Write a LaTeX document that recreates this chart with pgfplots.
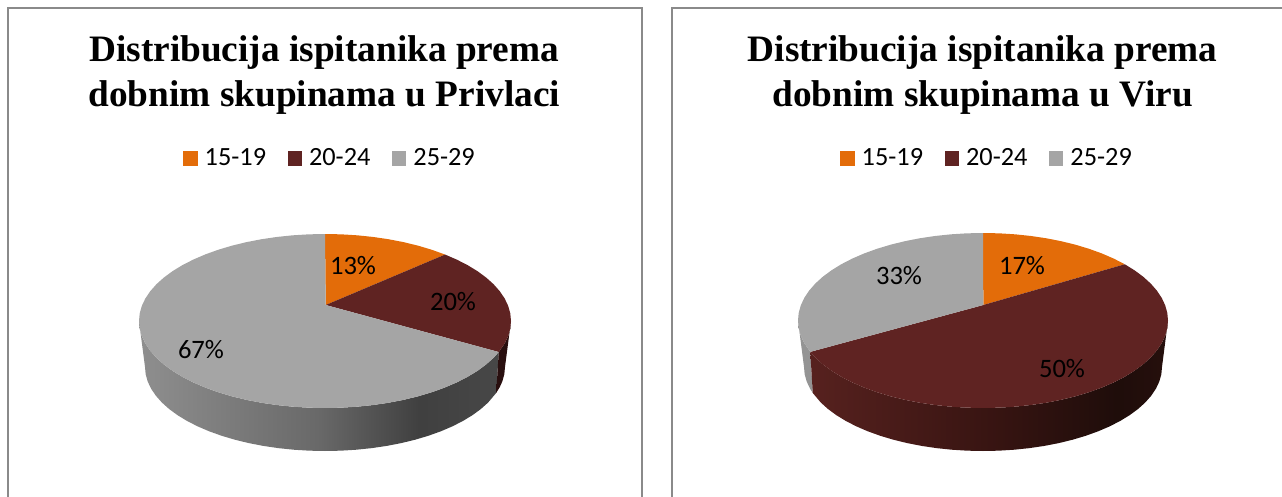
\documentclass[border=0pt]{standalone}
\usepackage{fontspec}
\setmainfont{Liberation Serif}
\newfontfamily\calfont{Carlito}
\usepackage{pgfplots}
\usepackage{pgfplotstable}
\pgfplotsset{compat=1.18}
\definecolor{cOrange}{HTML}{E36C09}
\definecolor{cMaroon}{HTML}{5F2322}
\definecolor{cGray}{HTML}{A5A5A5}
\definecolor{cFrame}{HTML}{8A8A8A}
\pgfdeclarehorizontalshading{wallgray}{100bp}{rgb(0bp)=(0.56,0.56,0.56); rgb(25bp)=(0.56,0.56,0.56); rgb(50bp)=(0.41,0.41,0.41); rgb(64bp)=(0.25,0.25,0.25); rgb(75bp)=(0.28,0.28,0.28); rgb(100bp)=(0.28,0.28,0.28)}
\pgfdeclarehorizontalshading{wallmaroon}{100bp}{rgb(0bp)=(0.34,0.13,0.12); rgb(25bp)=(0.34,0.13,0.12); rgb(50bp)=(0.22,0.08,0.07); rgb(68bp)=(0.12,0.05,0.04); rgb(75bp)=(0.15,0.06,0.05); rgb(100bp)=(0.15,0.06,0.05)}
\pgfdeclarehorizontalshading{wallmaroondark}{100bp}{rgb(0bp)=(0.16,0.06,0.06); rgb(100bp)=(0.16,0.06,0.06)}
\pgfdeclarehorizontalshading{wallgraylight}{100bp}{rgb(0bp)=(0.58,0.58,0.58); rgb(100bp)=(0.58,0.58,0.58)}

% top faces: t = angle on the rim clockwise from the top, f = 0 for the pie's apex, 1 for the rim
\pgfplotstableread[row sep=\\]{t f\\ 0 0\\ 0 1\\ 5 1\\ 10 1\\ 15 1\\ 20 1\\ 25 1\\ 30 1\\ 35 1\\ 40.2 1\\}\LtopA
\pgfplotstableread[row sep=\\]{t f\\ 0 0\\ 40.2 1\\ 45 1\\ 50 1\\ 55 1\\ 60 1\\ 65 1\\ 70 1\\ 75 1\\ 80 1\\ 85 1\\ 90 1\\ 95 1\\ 100 1\\ 105 1\\ 110.9 1\\}\LtopB
\pgfplotstableread[row sep=\\]{t f\\ 0 0\\ 110.9 1\\ 115 1\\ 120 1\\ 125 1\\ 130 1\\ 135 1\\ 140 1\\ 145 1\\ 150 1\\ 155 1\\ 160 1\\ 165 1\\ 170 1\\ 175 1\\ 180 1\\ 185 1\\ 190 1\\ 195 1\\ 200 1\\ 205 1\\ 210 1\\ 215 1\\ 220 1\\ 225 1\\ 230 1\\ 235 1\\ 240 1\\ 245 1\\ 250 1\\ 255 1\\ 260 1\\ 265 1\\ 270 1\\ 275 1\\ 280 1\\ 285 1\\ 290 1\\ 295 1\\ 300 1\\ 305 1\\ 310 1\\ 315 1\\ 320 1\\ 325 1\\ 330 1\\ 335 1\\ 340 1\\ 345 1\\ 350 1\\ 355 1\\ 360 1\\}\LtopC
\pgfplotstableread[row sep=\\]{t f\\ 0 0\\ 0 1\\ 5 1\\ 10 1\\ 15 1\\ 20 1\\ 25 1\\ 30 1\\ 35 1\\ 40 1\\ 45 1\\ 50 1\\}\RtopA
\pgfplotstableread[row sep=\\]{t f\\ 0 0\\ 50 1\\ 55 1\\ 60 1\\ 65 1\\ 70 1\\ 75 1\\ 80 1\\ 85 1\\ 90 1\\ 95 1\\ 100 1\\ 105 1\\ 110 1\\ 115 1\\ 120 1\\ 125 1\\ 130 1\\ 135 1\\ 140 1\\ 145 1\\ 150 1\\ 155 1\\ 160 1\\ 165 1\\ 170 1\\ 175 1\\ 180 1\\ 185 1\\ 190 1\\ 195 1\\ 200 1\\ 205 1\\ 210 1\\ 215 1\\ 220 1\\ 225 1\\ 230 1\\ 235 1\\ 240 1\\ 245 1\\ 249 1\\}\RtopB
\pgfplotstableread[row sep=\\]{t f\\ 0 0\\ 249 1\\ 255 1\\ 260 1\\ 265 1\\ 270 1\\ 275 1\\ 280 1\\ 285 1\\ 290 1\\ 295 1\\ 300 1\\ 305 1\\ 310 1\\ 315 1\\ 320 1\\ 325 1\\ 330 1\\ 335 1\\ 340 1\\ 345 1\\ 350 1\\ 355 1\\ 360 1\\}\RtopC
% side walls: z = 0 upper rim, 1 lower rim
\pgfplotstableread[row sep=\\]{t z\\ 90 0\\ 95 0\\ 100 0\\ 105 0\\ 110.9 0\\ 108 1\\ 104 1\\ 100 1\\ 95 1\\ 90 1\\}\LwallB
\pgfplotstableread[row sep=\\]{t z\\ 110.9 0\\ 115 0\\ 120 0\\ 125 0\\ 130 0\\ 135 0\\ 140 0\\ 145 0\\ 150 0\\ 155 0\\ 160 0\\ 165 0\\ 170 0\\ 175 0\\ 180 0\\ 185 0\\ 190 0\\ 195 0\\ 200 0\\ 205 0\\ 210 0\\ 215 0\\ 220 0\\ 225 0\\ 230 0\\ 235 0\\ 240 0\\ 245 0\\ 250 0\\ 255 0\\ 260 0\\ 265 0\\ 270 0\\ 270 1\\ 265 1\\ 260 1\\ 255 1\\ 250 1\\ 245 1\\ 240 1\\ 235 1\\ 230 1\\ 225 1\\ 220 1\\ 215 1\\ 210 1\\ 205 1\\ 200 1\\ 195 1\\ 190 1\\ 185 1\\ 180 1\\ 175 1\\ 170 1\\ 165 1\\ 160 1\\ 155 1\\ 150 1\\ 145 1\\ 140 1\\ 135 1\\ 130 1\\ 125 1\\ 120 1\\ 115 1\\ 108 1\\}\LwallC
\pgfplotstableread[row sep=\\]{t z\\ 90 0\\ 95 0\\ 100 0\\ 105 0\\ 110 0\\ 115 0\\ 120 0\\ 125 0\\ 130 0\\ 135 0\\ 140 0\\ 145 0\\ 150 0\\ 155 0\\ 160 0\\ 165 0\\ 170 0\\ 175 0\\ 180 0\\ 185 0\\ 190 0\\ 195 0\\ 200 0\\ 205 0\\ 210 0\\ 215 0\\ 220 0\\ 225 0\\ 230 0\\ 235 0\\ 240 0\\ 245 0\\ 249 0\\ 252 1\\ 245 1\\ 240 1\\ 235 1\\ 230 1\\ 225 1\\ 220 1\\ 215 1\\ 210 1\\ 205 1\\ 200 1\\ 195 1\\ 190 1\\ 185 1\\ 180 1\\ 175 1\\ 170 1\\ 165 1\\ 160 1\\ 155 1\\ 150 1\\ 145 1\\ 140 1\\ 135 1\\ 130 1\\ 125 1\\ 120 1\\ 115 1\\ 110 1\\ 105 1\\ 100 1\\ 95 1\\ 90 1\\}\RwallB
\pgfplotstableread[row sep=\\]{t z\\ 249 0\\ 255 0\\ 260 0\\ 265 0\\ 270 0\\ 270 1\\ 265 1\\ 260 1\\ 255 1\\ 252 1\\}\RwallC

\pgfplotsset{
  pieframe/.style={
    hide axis, scale only axis, clip=false, y dir=reverse,
    ymin=0, ymax=497, height=497pt,
    title style={align=center,anchor=center,inner sep=0pt,
      font=\fontsize{37.3}{44.5}\selectfont\bfseries},
    legend style={draw=none,fill=none,legend columns=-1,anchor=west,
      font=\calfont\fontsize{26.3}{26.3}\selectfont,
      nodes={inner sep=0pt,anchor=base west},
      /tikz/every odd column/.append style={column sep=7pt},
      /tikz/every even column/.append style={column sep=21.5pt},
      inner sep=0pt},
    legend image code/.code={\fill[##1] (0pt,0pt) rectangle (14.5pt,14.5pt);},
  },
  wallstyle/.style={draw=none,forget plot},
}
\newcommand{\piewall}[2]{\addplot[wallstyle,shading=#1] table[
   x expr={\cx+(\rx-6*\thisrow{z})*sin(\thisrow{t})},
   y expr={\cy+\dz*\thisrow{z}-(\ry-\dr*\thisrow{z})*cos(\thisrow{t})}] {#2} --cycle;}
\newcommand{\pietop}[2]{\addplot[draw=none,fill=#1] table[
   x expr={\thisrow{f}*(\cx+\rx*sin(\thisrow{t}))+(1-\thisrow{f})*\ax},
   y expr={\thisrow{f}*(\cy-\ry*cos(\thisrow{t}))+(1-\thisrow{f})*\ay}] {#2} --cycle;}
\newcommand{\pielabel}[3]{\node[font=\calfont\fontsize{26.6}{26.6}\selectfont,text=black] at (axis cs:#1,#2) {#3};}

\begin{document}
\begin{tikzpicture}[x=1pt,y=1pt]
\useasboundingbox (0pt,0pt) rectangle (1282pt,497pt);
\def\cx{325}\def\cy{321}\def\rx{186}\def\ry{87}\def\ax{325.7}\def\ay{305}\def\dz{46}\def\dr{3}
\begin{axis}[pieframe, at={(0pt,0pt)}, anchor=south west,
  width=657pt, xmin=0, xmax=657,
  title={Distribucija ispitanika prema\\dobnim skupinama u Privlaci},
  title style={at={(0.4935,0.8365)}},
  legend style={at={(axis cs:183,158)}}]
\addplot[cFrame,line width=2pt,forget plot] coordinates {(7.5,497) (7.5,8) (642,8) (642,497)};
\piewall{wallgray}{\LwallC}
\piewall{wallmaroondark}{\LwallB}
\pietop{cOrange}{\LtopA}
\pietop{cMaroon}{\LtopB}
\pietop{cGray}{\LtopC}
\legend{15-19,20-24,25-29}
\pielabel{353}{266}{13\%}
\pielabel{453}{302}{20\%}
\pielabel{201}{350}{67\%}
\end{axis}
\def\cx{983}\def\cy{320.5}\def\rx{185}\def\ry{87.5}\def\ax{983.3}\def\ay{305}\def\dz{46.5}\def\dr{3.5}
\begin{axis}[pieframe, at={(657pt,0pt)}, anchor=south west,
  width=625pt, xmin=657, xmax=1282,
  title={Distribucija ispitanika prema\\dobnim skupinama u Viru},
  title style={at={(0.521,0.8365)}},
  legend style={at={(axis cs:840,158)}}]
\addplot[cFrame,line width=2pt,forget plot] coordinates {(672,497) (672,8) (1282,8)};
\piewall{wallgraylight}{\RwallC}
\piewall{wallmaroon}{\RwallB}
\pietop{cOrange}{\RtopA}
\pietop{cMaroon}{\RtopB}
\pietop{cGray}{\RtopC}
\legend{15-19,20-24,25-29}
\pielabel{1022}{266}{17\%}
\pielabel{899}{276}{33\%}
\pielabel{1062}{369}{50\%}
\end{axis}
\end{tikzpicture}
\end{document}
